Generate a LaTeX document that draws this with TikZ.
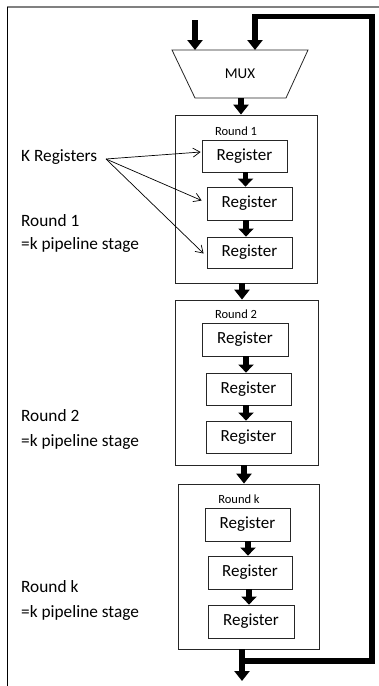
\documentclass[tikz,border=0pt]{standalone}
\usepackage{fontspec}
\setmainfont{Carlito}
\usetikzlibrary{arrows.meta,calc}

\tikzset{
  reg/.style={draw=black!85, line width=0.8pt, fill=white, minimum width=85pt,
              minimum height=32pt, inner sep=0pt, font=\fontsize{17}{19}\selectfont},
  roundbox/.style={draw=black!85, line width=0.8pt, inner sep=0pt},
  roundtag/.style={inner sep=0pt, font=\fontsize{12.5}{14}\selectfont},
  sidetext/.style={inner sep=0pt, anchor=base west, font=\fontsize{17.3}{19}\selectfont},
  bus/.style={line width=5.8pt, -{Triangle[width=15pt,length=10pt]}},
  shortbus/.style={line width=5.8pt, -{Triangle[width=15pt,length=8pt]}},
  feed/.style={line width=5.5pt, line join=miter},
  pointer/.style={line width=0.7pt, -{Straight Barb[length=7pt,width=9pt]}}
}

\begin{document}
\begin{tikzpicture}[x=1pt,y=-1pt]
\useasboundingbox (0,0) rectangle (379,686);

% outer frame (top and left edges)
\draw[black!50, line width=1.3pt] (7,7) -- (379,7);
\draw[black, line width=1pt] (7,7) -- (7,686);

% multiplexer
\coordinate (mtl) at (172,50);
\coordinate (mtr) at (308,50);
\coordinate (mbr) at (286,98);
\coordinate (mbl) at (195,98);
\draw[black!85, line width=0.8pt, fill=white] (mtl) -- (mtr) -- (mbr) -- (mbl) -- cycle;
\node[inner sep=0pt, font=\fontsize{15}{17}\selectfont] (mux) at (240,74) {MUX};

% round boxes
\node[roundbox, minimum width=142pt, minimum height=168pt] (rd1) at (246,199) {};
\node[roundbox, minimum width=143pt, minimum height=165pt] (rd2) at (246.5,382.5) {};
\node[roundbox, minimum width=141pt, minimum height=165pt] (rdk) at (248.5,566.5) {};

\node[roundtag] (t1) at (236,131) {Round 1};
\node[roundtag] (t2) at (236,314) {Round 2};
\node[roundtag] (tk) at (239,499) {Round k};

% registers
\node[reg] (r11) at (244.5,156) {Register};
\node[reg, minimum height=33pt] (r12) at (249.5,203.5) {Register};
\node[reg, minimum height=31pt] (r13) at (249.5,252.5) {Register};

\node[reg, minimum width=86pt, minimum height=33pt] (r21) at (245,339.5) {Register};
\node[reg] (r22) at (248.5,389) {Register};
\node[reg] (r23) at (248.5,437) {Register};

\node[reg, minimum height=33pt] (rk1) at (247.5,524.5) {Register};
\node[reg, minimum width=84pt, minimum height=33pt] (rk2) at (250,572.5) {Register};
\node[reg, minimum width=86pt, minimum height=33pt] (rk3) at (251,621.5) {Register};

% arrows between registers
\draw[shortbus] (r11.south -| 245.5,0) -- (r12.north -| 245.5,0);
\draw[shortbus] (r12.south -| 246,0) -- (r13.north -| 246,0);
\draw[shortbus] (r21.south -| 246,0) -- (r22.north -| 246,0);
\draw[shortbus] (r22.south -| 246,0) -- (r23.north -| 246,0);
\draw[shortbus] (rk1.south -| 248,0) -- (rk2.north -| 248,0);
\draw[shortbus] (rk2.south -| 249,0) -- (rk3.north -| 249,0);

% data path through the rounds
\draw[bus] (mbl -| 241,0) -- (rd1.north -| 241,0);
\draw[bus] (rd1.south -| 242,0) -- (rd2.north -| 242,0);
\draw[bus] (rd2.south -| 244,0) -- (rdk.north -| 244,0);
\coordinate (out) at (242,681);
\draw[bus] (rdk.south -| out) -- (out);

% inputs of the multiplexer
\coordinate (inA) at (195,20);
\draw[bus] (inA) -- (mtl -| inA);

% feedback loop
\coordinate (fb0) at (242,661);
\coordinate (fb1) at (372,661);
\coordinate (fb2) at (372,16.5);
\coordinate (fb3) at (255,16.5);
\draw[feed] (fb0) -- (fb1) -- (fb2) -- (fb3) -- ($(fb3)+(0,2.75)$);
\draw[bus] (fb3) -- (mtl -| fb3);

% side labels
\node[sidetext] (kreg) at (21,161) {K Registers};
\coordinate (fan) at (106,159);
\draw[pointer] (fan) -- ($(r11.west)+(-1,-4)$);
\draw[pointer] (fan) -- ($(r12.west)+(-5,-3)$);
\draw[pointer] (fan) -- ($(r13.west)+(-3,1)$);

\node[sidetext] (s1a) at (21,226) {Round 1};
\node[sidetext] (s1b) at (21,249) {=k pipeline stage};
\node[sidetext] (s2a) at (21,421) {Round 2};
\node[sidetext] (s2b) at (21,446) {=k pipeline stage};
\node[sidetext] (ska) at (21,592) {Round k};
\node[sidetext] (skb) at (21,617) {=k pipeline stage};
\end{tikzpicture}
\end{document}
